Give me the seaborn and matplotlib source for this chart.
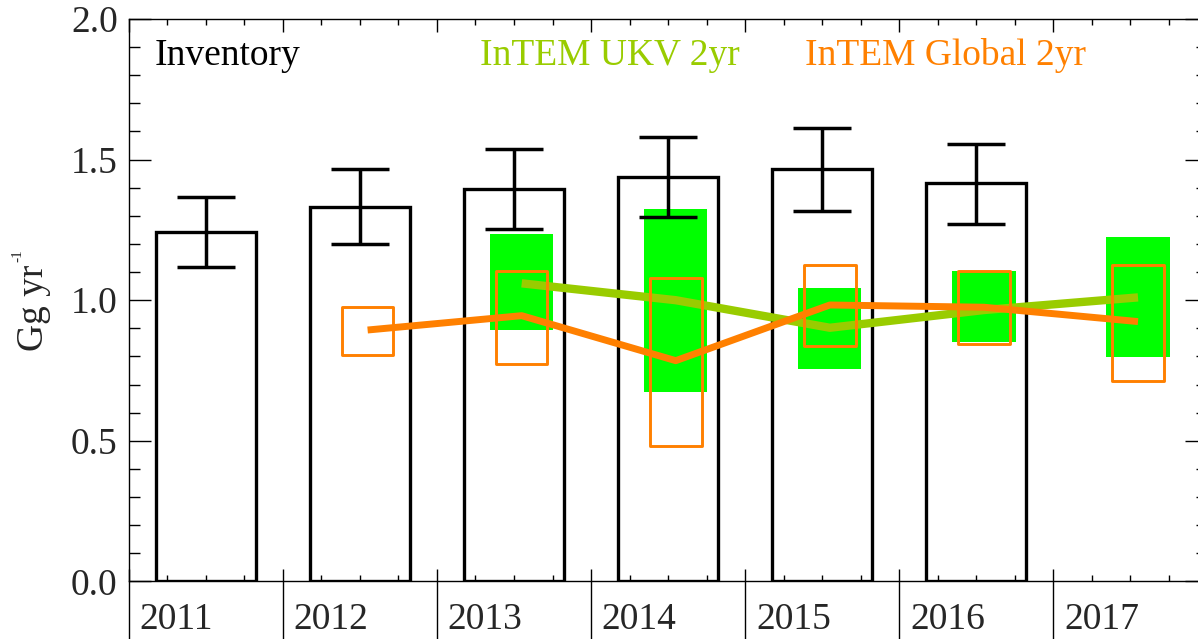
import matplotlib
matplotlib.use("Agg")
import matplotlib.pyplot as plt
import matplotlib.transforms as mtransforms
from matplotlib.ticker import MultipleLocator
import numpy as np
import seaborn as sns

# inventory (black bars with uncertainty)
inv_years = [2011, 2012, 2013, 2014, 2015, 2016]
inv_values = [1.244, 1.330, 1.397, 1.437, 1.465, 1.416]
inv_low = [1.119, 1.201, 1.254, 1.295, 1.318, 1.271]
inv_high = [1.368, 1.465, 1.537, 1.579, 1.613, 1.554]

# InTEM UKV 2yr
ukv_years = [2013, 2014, 2015, 2016, 2017]
ukv_mid = [1.060, 1.000, 0.902, 0.965, 1.010]
ukv_low = [0.894, 0.675, 0.755, 0.850, 0.797]
ukv_high = [1.234, 1.323, 1.045, 1.105, 1.224]

# InTEM Global 2yr
glob_years = [2012, 2013, 2014, 2015, 2016, 2017]
glob_mid = [0.894, 0.945, 0.785, 0.983, 0.975, 0.924]
glob_low = [0.805, 0.773, 0.483, 0.838, 0.843, 0.714]
glob_high = [0.977, 1.105, 1.080, 1.125, 1.105, 1.125]

year_labels = ["2011", "2012", "2013", "2014", "2015", "2016", "2017"]

GREEN = "#00ff00"
LIME = "#99cc00"
ORANGE = "#ff8000"

sns.set_style("ticks")
plt.rcParams["font.family"] = ["Liberation Serif", "DejaVu Serif"]

fig = plt.figure(figsize=(11.98, 6.39), dpi=100)
ax = fig.add_axes([0.1075, 0.0901, 0.9003, 0.8802])

inv_x = np.array(inv_years) + 0.5
ukv_x = np.array(ukv_years) + 0.55
glob_x = np.array(glob_years) + 0.55

# inventory bars (outline only)
sns.barplot(x=inv_x, y=inv_values, native_scale=True, fill=False, color="black",
            linewidth=2.4, width=0.65, errorbar=None, ax=ax, zorder=1)

# UKV uncertainty boxes
ukv_low_a = np.array(ukv_low)
ax.bar(ukv_x, np.array(ukv_high) - ukv_low_a, bottom=ukv_low_a, width=0.41,
       color=GREEN, linewidth=0, zorder=2)

# lines
sns.lineplot(x=ukv_x, y=ukv_mid, color=LIME, linewidth=6, ax=ax, zorder=3,
             solid_capstyle="butt")
sns.lineplot(x=glob_x, y=glob_mid, color=ORANGE, linewidth=5, ax=ax, zorder=4,
             solid_capstyle="butt")

# Global uncertainty boxes (outline)
glob_low_a = np.array(glob_low)
ax.bar(glob_x, np.array(glob_high) - glob_low_a, bottom=glob_low_a, width=0.334,
       fill=False, edgecolor=ORANGE, linewidth=2.1, zorder=5, joinstyle="round")

# inventory error bars
inv_v = np.array(inv_values)
ax.errorbar(inv_x, inv_v, yerr=[inv_v - np.array(inv_low), np.array(inv_high) - inv_v],
            fmt="none", ecolor="black", elinewidth=2.5, capsize=21, capthick=2.5, zorder=6)

ax.set_xlim(2011, 2018)
ax.set_ylim(0, 2.0)

ax.xaxis.set_major_locator(MultipleLocator(1))
ax.xaxis.set_minor_locator(MultipleLocator(0.25))
ax.yaxis.set_major_locator(MultipleLocator(0.5))
ax.yaxis.set_minor_locator(MultipleLocator(0.1))
ax.yaxis.set_major_formatter(matplotlib.ticker.FormatStrFormatter("%.1f"))
ax.set_xticklabels([])

ax.tick_params(axis="x", which="both", direction="in", top=True, bottom=True,
               labelbottom=False, width=1, color="black")
ax.tick_params(axis="x", which="major", length=9)
ax.tick_params(axis="x", which="minor", length=4.5)
ax.tick_params(axis="y", which="both", direction="in", left=True, right=True,
               width=1, color="black", labelsize=27, pad=8)
ax.tick_params(axis="y", which="major", length=16)
ax.tick_params(axis="y", which="minor", length=8)

for s in ax.spines.values():
    s.set_linewidth(1)
    s.set_color("black")

# year separators below the axis and year labels
trans = mtransforms.blended_transform_factory(ax.transData, ax.transAxes)
ax.vlines(range(2011, 2018), -0.12, 0, transform=trans, color="black", lw=1, clip_on=False)
for yr, lab in zip(range(2011, 2018), year_labels):
    ax.text(yr + 0.07, -0.037, lab, transform=trans, ha="left", va="top", fontsize=27)

ax.set_xlabel("")
ax.set_ylabel("")
# y label with small superscript
fig.text(34 / 1198, 1 - 308 / 639, "Gg yr", rotation=90, fontsize=27,
         ha="center", va="center")
fig.text(18 / 1198, 1 - 256 / 639, "-1", rotation=90, fontsize=11,
         ha="center", va="center")

ax.text(2011.17, 1.870, "Inventory", fontsize=27, color="black", va="center")
ax.text(2013.28, 1.870, "InTEM UKV 2yr", fontsize=27, color=LIME, va="center")
ax.text(2015.39, 1.870, "InTEM Global 2yr", fontsize=27, color=ORANGE, va="center")

fig.savefig("out.png", dpi=100)
